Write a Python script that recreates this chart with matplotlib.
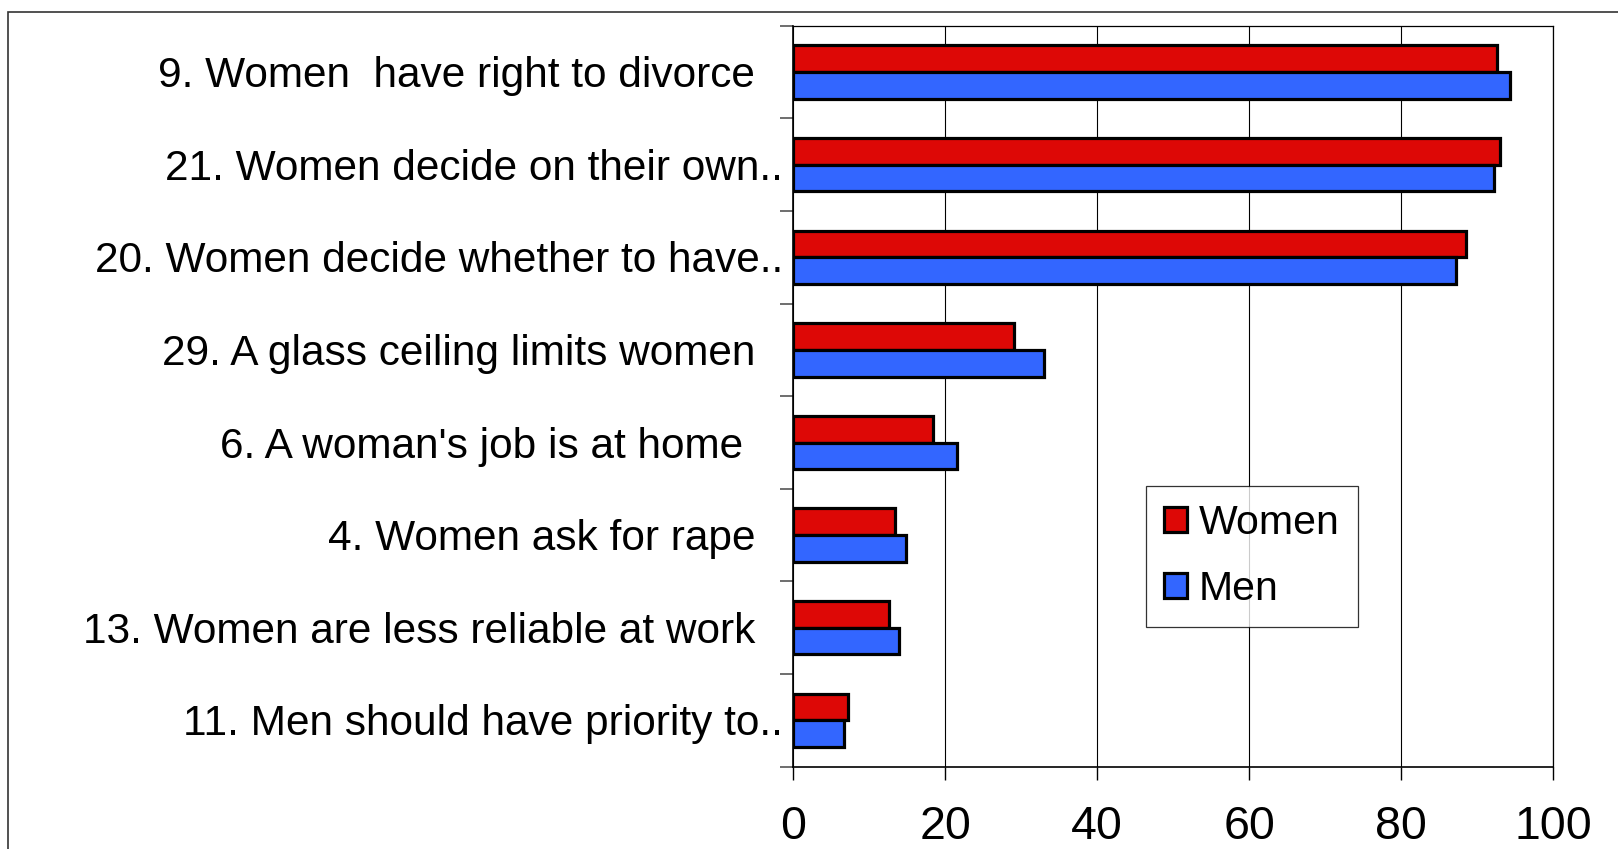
import matplotlib
matplotlib.use('Agg')
import matplotlib.pyplot as plt
import matplotlib.patches as mpatches
import numpy as np

plt.rcParams['font.family'] = ['Liberation Sans', 'DejaVu Sans']

# statements, top to bottom
labels = [
    '9. Women  have right to divorce',
    '21. Women decide on their own..',
    '20. Women decide whether to have..',
    '29. A glass ceiling limits women',
    "6. A woman's job is at home ",
    '4. Women ask for rape',
    '13. Women are less reliable at work',
    '11. Men should have priority to..',
]
women = [92.6, 93.0, 88.6, 29.1, 18.4, 13.4, 12.6, 7.2]
men = [94.3, 92.2, 87.3, 33.0, 21.6, 14.9, 13.9, 6.7]
series_names = ['Women', 'Men']
xticks = [0, 20, 40, 60, 80, 100]

RED = '#DD0806'
BLUE = '#3366FF'


def main():
    fig = plt.figure(figsize=(16.18, 8.49), dpi=100)
    ax = fig.add_axes([0.4903, 0.0969, 0.4695, 0.8728])

    y = np.arange(len(labels))
    h = 0.288
    ax.barh(y - h / 2, women, height=h, color=RED, edgecolor='black',
            linewidth=2.3, label=series_names[0], zorder=3)
    ax.barh(y + h / 2, men, height=h, color=BLUE, edgecolor='black',
            linewidth=2.3, label=series_names[1], zorder=3)

    ax.set_xlim(0, 100)
    ax.set_ylim(len(labels) - 0.5, -0.5)

    # x axis
    ax.set_xticks(xticks)
    ax.set_xticklabels([str(t) for t in xticks])
    ax.tick_params(axis='x', direction='out', length=9.6, width=1,
                   color='black', labelsize=33.5, pad=18)
    ax.grid(axis='x', color='black', linewidth=0.8, zorder=0)

    # y axis: ticks between categories, labels drawn by hand
    ax.set_yticks(np.arange(len(labels) + 1) - 0.5)
    ax.set_yticklabels([])
    ax.tick_params(axis='y', direction='out', length=9.6, width=1.2,
                   color='#555555')
    fs = 30.5
    space_px = 0.278 * fs * 100 / 72
    for i, lab in enumerate(labels):
        if lab.endswith('..'):
            pad = 10
        else:
            pad = 38 + space_px * (len(lab) - len(lab.rstrip()))
        ax.annotate(lab.rstrip(), xy=(0, i), xycoords=('axes fraction', 'data'),
                    xytext=(-pad, -4), textcoords='offset pixels',
                    ha='right', va='center', fontsize=fs)

    for side in ['top', 'right']:
        ax.spines[side].set_linewidth(0.9)
        ax.spines[side].set_color('black')
    for side in ['left', 'bottom']:
        ax.spines[side].set_linewidth(1.2)
        ax.spines[side].set_color('black')

    leg = ax.legend(loc='upper left', bbox_to_anchor=(0.464, 0.379),
                    borderaxespad=0, fontsize=29.5, frameon=True,
                    fancybox=False, edgecolor='black', handlelength=0.55,
                    handleheight=0.55, handletextpad=0.3, labelspacing=0.68,
                    borderpad=0.45)
    leg.get_frame().set_linewidth(0.9)

    # outer chart border (cut off at right and bottom)
    border = mpatches.Rectangle((8.3 / 1618, -0.05), 1.1, 1.05 - 11.7 / 849,
                                transform=fig.transFigure, fill=False,
                                edgecolor='#333333', linewidth=1.2,
                                clip_on=False)
    fig.patches.append(border)

    fig.savefig('out.png', dpi=100)


if __name__ == '__main__':
    main()
